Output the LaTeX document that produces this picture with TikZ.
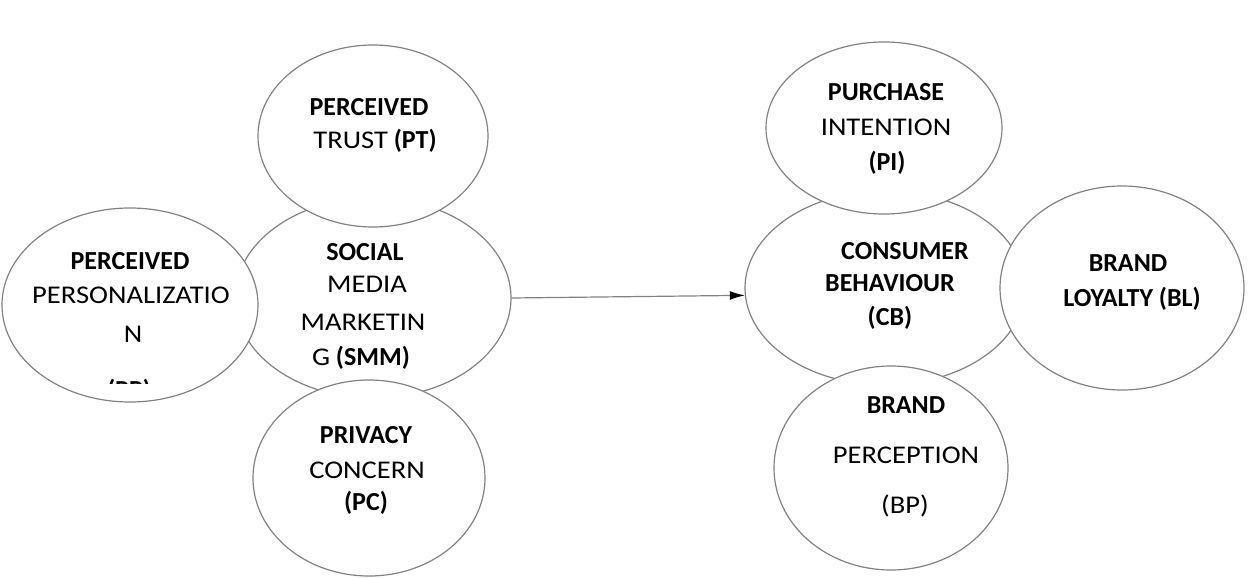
\documentclass[tikz,border=0pt]{standalone}
\usepackage{fontspec}
\setmainfont{Carlito}
\newfontfamily\regf[FakeStretch=1.12]{Carlito}
\usetikzlibrary{shapes.geometric,arrows.meta}
\definecolor{edgegray}{RGB}{130,130,130}
\tikzset{
  oval/.style={ellipse,draw=edgegray,line width=1.2pt,fill=white,inner sep=0pt},
  bl/.style={anchor=base,inner sep=0pt,font=\fontsize{26}{30}\selectfont\bfseries},
  rl/.style={anchor=base,inner sep=0pt,font=\fontsize{25.5}{29}\selectfont\regf\mdseries},
  link/.style={draw=edgegray,line width=1.2pt,-{Latex[length=15pt,width=9pt,color=black]}}
}
\newcommand{\rt}[1]{{\regf\mdseries\fontsize{25.5}{29}\selectfont #1}}
\begin{document}
\begin{tikzpicture}[x=1pt,y=-1pt]
\useasboundingbox (0,0) rectangle (1256,578);
% left cluster
\node[oval,minimum width=276pt,minimum height=200pt] (smm) at (373,298) {};
\node[oval,minimum width=230pt,minimum height=182pt] (pt) at (373,136) {};
\node[oval,minimum width=256pt,minimum height=194pt] (pp) at (130,305) {};
\node[oval,minimum width=232pt,minimum height=196pt] (pc) at (369,478) {};
% right cluster
\node[oval,minimum width=280pt,minimum height=194pt] (cb) at (885,288) {};
\node[oval,minimum width=236pt,minimum height=172pt] (pi) at (884,128) {};
\node[oval,minimum width=244pt,minimum height=204pt] (bl) at (1122,288) {};
\node[oval,minimum width=234pt,minimum height=204pt] (bp) at (891,468) {};
% connector
\draw[link] (smm.east) -- (cb.183);
% texts: PT
\node[bl] (pt1) at (369,115) {PERCEIVED};
\node[bl] (pt2) at (375,148) {\rt{TRUST} (PT)};
% PP
\node[bl] (pp1) at (130,269) {PERCEIVED};
\node[rl] (pp2) at (131,303) {PERSONALIZATIO};
\node[rl] (pp3) at (133,342) {N};
\begin{scope}
\clip (0,0) rectangle (258,383);
\node[bl] (pp4) at (129,398) {(PP)};
\end{scope}
% SMM
\node[bl] (smm1) at (365,260) {SOCIAL};
\node[rl] (smm2) at (367,292) {MEDIA};
\node[rl] (smm3) at (363,330) {MARKETIN};
\node[bl] (smm4) at (361,365) {\rt{G} (SMM)};
% PC
\node[bl] (pc1) at (366,443) {PRIVACY};
\node[rl] (pc2) at (367,478) {CONCERN};
\node[bl] (pc3) at (366,510) {(PC)};
% PI
\node[bl] (pi1) at (886,100) {PURCHASE};
\node[rl] (pi2) at (886,135) {INTENTION};
\node[bl] (pi3) at (887,170) {(PI)};
% CB
\node[bl] (cb1) at (905,259) {CONSUMER};
\node[bl] (cb2) at (890,291) {BEHAVIOUR};
\node[bl] (cb3) at (890,325) {(CB)};
% BL
\node[bl] (bl1) at (1128,271) {BRAND};
\node[bl] (bl2) at (1132,306) {LOYALTY (BL)};
% BP
\node[bl] (bp1) at (906,413) {BRAND};
\node[rl] (bp2) at (906,463) {PERCEPTION};
\node[rl] (bp3) at (905,513) {(BP)};
\end{tikzpicture}
\end{document}
